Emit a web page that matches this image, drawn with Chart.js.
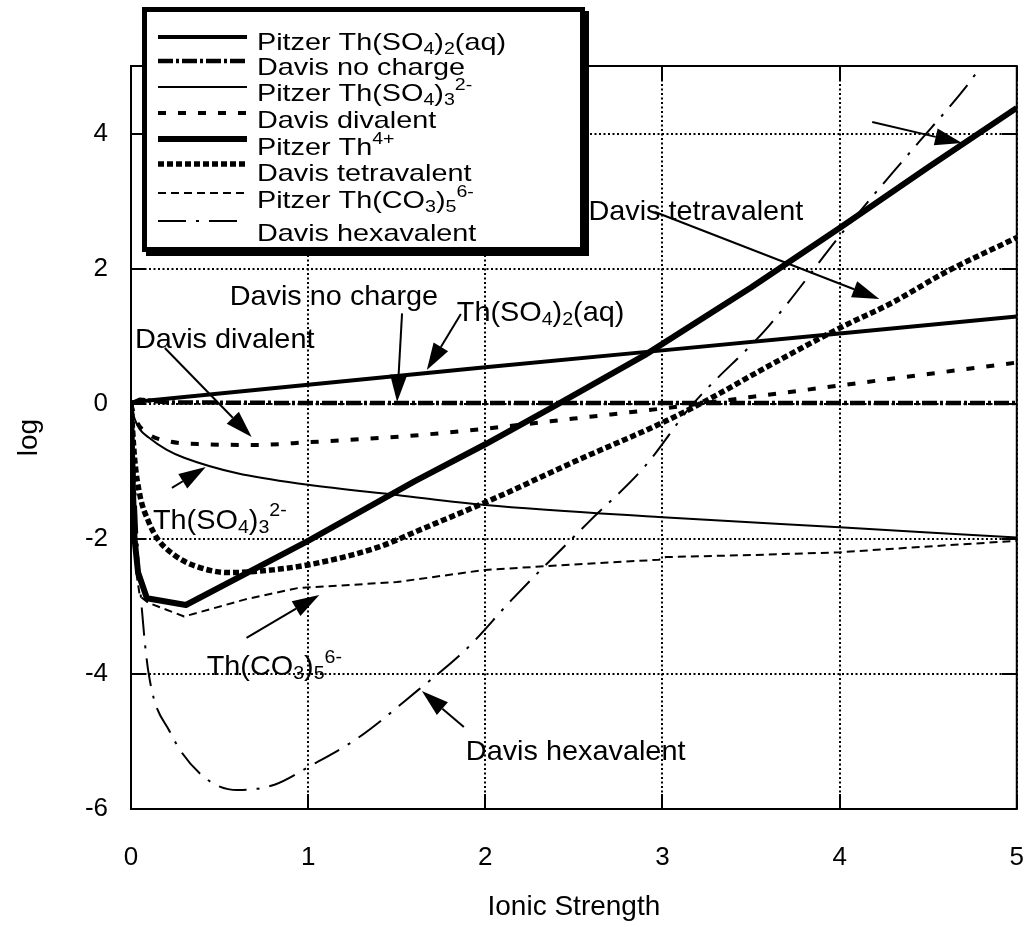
<!DOCTYPE html>
<html><head><meta charset="utf-8">
<script src="https://cdn.jsdelivr.net/npm/chart.js@4.4.0/dist/chart.umd.min.js"></script>
<style>html,body{margin:0;padding:0;background:#fff;}#wrap{width:1028px;height:927px;position:relative;}</style>
</head><body><div id="wrap"><canvas id="c" width="1028" height="927"></canvas></div>
<script>
const FONT = '"Liberation Sans", Arial, Helvetica, sans-serif';

// ---- data ----
const xTicks = [0, 1, 2, 3, 4, 5];
const yTicks = [-6, -4, -2, 0, 2, 4];
const xTitle = 'Ionic Strength';
const yTitle = 'log';

const seriesLabels = [
  'Pitzer Th(SO_{4})_{2}(aq)', 'Davis no charge', 'Pitzer Th(SO_{4})_{3}^{2-}', 'Davis divalent',
  'Pitzer Th^{4+}', 'Davis tetravalent', 'Pitzer Th(CO_{3})_{5}^{6-}', 'Davis hexavalent'
];

const xPitzerThSO4_2 = [0, 1, 2, 3, 4, 5];
const yPitzerThSO4_2 = [0.02, 0.28, 0.54, 0.79, 1.04, 1.29];

const xDavisNoCharge = [0, 0.05, 0.2, 1, 2, 3, 4, 5];
const yDavisNoCharge = [0, 0.06, 0.02, 0.01, 0.01, 0.01, 0.01, 0.01];

const xPitzerThSO4_3 = [0, 0.02, 0.05, 0.1, 0.2, 0.3, 0.6, 1, 1.5, 2, 3, 4, 5];
const yPitzerThSO4_3 = [0, -0.22, -0.38, -0.5, -0.68, -0.8, -1.03, -1.2, -1.35, -1.5, -1.68, -1.83, -1.98];

const xDavisDivalent = [0, 0.03, 0.1, 0.2, 0.4, 0.7, 1, 1.6, 2, 2.5, 3, 3.5, 4, 4.5, 5];
const yDavisDivalent = [0, -0.25, -0.45, -0.55, -0.6, -0.61, -0.57, -0.47, -0.37, -0.22, -0.07, 0.1, 0.27, 0.44, 0.61];

const xPitzerTh4 = [0, 0.01, 0.02, 0.04, 0.09, 0.31, 1, 1.6, 2, 2.4, 2.9, 3.5, 4, 4.5, 5];
const yPitzerTh4 = [0, -1.2, -2.0, -2.5, -2.88, -2.98, -2.03, -1.15, -0.6, -0.02, 0.72, 1.72, 2.6, 3.5, 4.38];

const xDavisTetravalent = [0, 0.02, 0.05, 0.1, 0.15, 0.25, 0.36, 0.55, 0.8, 1.05, 1.4, 1.62, 2.07, 2.5, 3, 3.25, 3.6, 4, 4.3, 4.6, 5];
const yDavisTetravalent = [0, -0.8, -1.35, -1.75, -2.0, -2.25, -2.4, -2.5, -2.46, -2.36, -2.12, -1.88, -1.38, -0.86, -0.28, 0.05, 0.56, 1.12, 1.5, 1.95, 2.46];

const xPitzerThCO3 = [0, 0.01, 0.03, 0.05, 0.1, 0.3, 0.64, 0.94, 1.5, 2, 2.5, 2.98, 3.02, 3.5, 4, 4.4, 5];
const yPitzerThCO3 = [0, -1.5, -2.5, -2.85, -2.95, -3.15, -2.9, -2.73, -2.64, -2.46, -2.38, -2.31, -2.27, -2.24, -2.2, -2.13, -2.03];

const xDavisHexavalent = [0, 0.02, 0.04, 0.06, 0.1, 0.22, 0.4, 0.6, 0.81, 1, 1.28, 1.62, 1.89, 2.15, 2.58, 2.9, 3.16, 3.6, 4.03, 4.41, 4.71, 4.8];
const yDavisHexavalent = [0, -1.0, -2.2, -3.0, -4.0, -4.86, -5.5, -5.72, -5.64, -5.38, -4.95, -4.24, -3.64, -2.9, -1.76, -0.93, -0.04, 1.15, 2.58, 3.76, 4.68, 5.0];

// annotations: text, text anchor (data units), arrow tail and tip (data units)
const annoTexts = ['Davis no charge', 'Th(SO_{4})_{2}(aq)', 'Davis divalent', 'Th(SO_{4})_{3}^{2-}', 'Th(CO_{3})_{5}^{6-}', 'Davis hexavalent', 'Davis tetravalent', ''];
const annoTextAt = [[0.557, 1.46], [1.839, 1.225], [0.022, 0.825], [0.124, -1.85], [0.427, -4.02], [1.89, -5.276], [2.582, 2.72], null];
const annoArrowFrom = [[1.530, 1.338], [1.862, 1.328], [0.191, 0.825], [0.231, -1.247], [0.652, -3.468], [1.879, -4.787], [2.958, 2.838], [4.184, 4.171]];
const annoArrowTo = [[1.502, 0.025], [1.670, 0.499], [0.681, -0.493], [0.422, -0.937], [1.063, -2.831], [1.642, -4.254], [4.224, 1.550], [4.691, 3.860]];

// ---- build datasets ----
const xs = [xPitzerThSO4_2, xDavisNoCharge, xPitzerThSO4_3, xDavisDivalent, xPitzerTh4, xDavisTetravalent, xPitzerThCO3, xDavisHexavalent];
const ys = [yPitzerThSO4_2, yDavisNoCharge, yPitzerThSO4_3, yDavisDivalent, yPitzerTh4, yDavisTetravalent, yPitzerThCO3, yDavisHexavalent];
const widths = [4, 4.5, 2, 4, 6, 5.5, 2, 2];
const dashes = [[], [15, 3, 3, 3], [], [8, 12], [], [6, 3], [8, 5], [28, 10, 3, 10]];
const smooth = [false, false, true, true, false, true, false, true];

const datasets = seriesLabels.map((lab, i) => ({
  label: lab,
  data: xs[i].map((x, j) => ({ x: x, y: ys[i][j] })),
  borderColor: '#000',
  backgroundColor: '#000',
  borderWidth: widths[i],
  borderDash: dashes[i],
  borderCapStyle: 'butt',
  borderJoinStyle: 'round',
  pointRadius: 0,
  fill: false,
  cubicInterpolationMode: smooth[i] ? 'monotone' : 'default',
  tension: 0
}));

// ---- rich text helper (sub/superscripts) ----
function parseRich(s) {
  const parts = []; const re = /([_^])\{([^}]*)\}/g; let last = 0, m;
  while ((m = re.exec(s))) {
    if (m.index > last) parts.push({ t: s.slice(last, m.index), k: '' });
    parts.push({ t: m[2], k: m[1] }); last = re.lastIndex;
  }
  if (last < s.length) parts.push({ t: s.slice(last), k: '' });
  return parts;
}
function drawRich(ctx, s, x, y, size, sx) {
  ctx.save(); ctx.translate(x, y); ctx.scale(sx, 1);
  ctx.fillStyle = '#000'; ctx.textAlign = 'left'; ctx.textBaseline = 'alphabetic';
  let cx = 0;
  for (const p of parseRich(s)) {
    const fs = p.k ? size * 0.68 : size;
    const dy = p.k === '_' ? size * 0.15 : (p.k === '^' ? -size * 0.45 : 0);
    ctx.font = fs + 'px ' + FONT;
    ctx.fillText(p.t, cx, dy);
    cx += ctx.measureText(p.t).width;
  }
  ctx.restore();
}
function arrow(ctx, x1, y1, x2, y2) {
  const a = Math.atan2(y2 - y1, x2 - x1), L = 27, W = 8.5;
  const bx = x2 - L * Math.cos(a), by = y2 - L * Math.sin(a);
  ctx.save(); ctx.strokeStyle = '#000'; ctx.fillStyle = '#000'; ctx.lineWidth = 2; ctx.setLineDash([]);
  ctx.beginPath(); ctx.moveTo(x1, y1); ctx.lineTo(bx, by); ctx.stroke();
  ctx.beginPath(); ctx.moveTo(x2, y2);
  ctx.lineTo(bx + W * Math.sin(a), by - W * Math.cos(a));
  ctx.lineTo(bx - W * Math.sin(a), by + W * Math.cos(a));
  ctx.closePath(); ctx.fill(); ctx.restore();
}

const gridPlugin = {
  id: 'dotgrid',
  beforeDatasetsDraw(chart) {
    const { ctx, chartArea: a, scales: { x, y } } = chart;
    ctx.save(); ctx.strokeStyle = '#000'; ctx.lineWidth = 2; ctx.setLineDash([2, 2.5]);
    xTicks.forEach(v => { const px = Math.round(x.getPixelForValue(v)); ctx.beginPath(); ctx.moveTo(px, a.top); ctx.lineTo(px, a.bottom); ctx.stroke(); });
    yTicks.forEach(v => { const py = Math.round(y.getPixelForValue(v)); ctx.beginPath(); ctx.moveTo(a.left, py); ctx.lineTo(a.right, py); ctx.stroke(); });
    ctx.restore();
  },
  afterDatasetsDraw(chart) {
    const { ctx, chartArea: a, scales: { x, y } } = chart;
    ctx.save(); ctx.strokeStyle = '#000'; ctx.setLineDash([]); ctx.lineWidth = 2;
    ctx.strokeRect(a.left, a.top, a.right - a.left, a.bottom - a.top);
    const T = 15;
    xTicks.forEach(v => { const px = Math.round(x.getPixelForValue(v));
      ctx.beginPath(); ctx.moveTo(px, a.bottom); ctx.lineTo(px, a.bottom - T); ctx.moveTo(px, a.top); ctx.lineTo(px, a.top + T); ctx.stroke(); });
    yTicks.forEach(v => { const py = Math.round(y.getPixelForValue(v));
      ctx.beginPath(); ctx.moveTo(a.left, py); ctx.lineTo(a.left + T, py); ctx.moveTo(a.right, py); ctx.lineTo(a.right - T, py); ctx.stroke(); });
    ctx.restore();
    // annotations
    annoTexts.forEach((t, i) => {
      if (t && annoTextAt[i]) drawRich(ctx, t, x.getPixelForValue(annoTextAt[i][0]), y.getPixelForValue(annoTextAt[i][1]), 28, 1.03);
      arrow(ctx, x.getPixelForValue(annoArrowFrom[i][0]), y.getPixelForValue(annoArrowFrom[i][1]),
        x.getPixelForValue(annoArrowTo[i][0]), y.getPixelForValue(annoArrowTo[i][1]));
    });
  },
  afterDraw(chart) {
    const ctx = chart.ctx;
    // legend box with shadow
    const bx = 142, by = 7, bw = 443, bh = 245;
    ctx.save();
    ctx.fillStyle = '#000'; ctx.fillRect(bx + 4, by + 4, bw, bh);
    ctx.fillStyle = '#fff'; ctx.fillRect(bx, by, bw, bh);
    ctx.strokeStyle = '#000'; ctx.lineWidth = 5; ctx.setLineDash([]);
    ctx.strokeRect(bx + 2.5, by + 2.5, bw - 5, bh - 5);
    const base = [50, 75, 101, 128, 155, 181, 208, 241];
    const lineY = [37, 61, 87, 113, 139, 164, 193, 221];
    chart.data.datasets.forEach((ds, i) => {
      ctx.save(); ctx.strokeStyle = '#000'; ctx.lineWidth = ds.borderWidth; ctx.setLineDash(ds.borderDash || []); ctx.lineCap = 'butt';
      ctx.beginPath(); ctx.moveTo(158, lineY[i]); ctx.lineTo(247, lineY[i]); ctx.stroke(); ctx.restore();
      drawRich(ctx, ds.label, 257, base[i], 24, 1.2);
    });
    ctx.restore();
  }
};

Chart.defaults.font.family = FONT;
Chart.defaults.color = '#000';

new Chart(document.getElementById('c').getContext('2d'), {
  type: 'line',
  data: { datasets },
  options: {
    responsive: false, animation: false, devicePixelRatio: 1,
    layout: { padding: { top: 66, right: 8, left: 0, bottom: 0 } },
    plugins: { legend: { display: false }, tooltip: { enabled: false } },
    scales: {
      x: {
        type: 'linear', min: 0, max: 5,
        afterBuildTicks: s => { s.ticks = xTicks.map(v => ({ value: v })); },
        afterFit: s => { s.height = 118; },
        grid: { display: false, drawTicks: false }, border: { display: false },
        ticks: { font: { size: 26, lineHeight: 90 / 26 }, color: '#000', padding: 4, maxRotation: 0 },
        title: { display: true, text: xTitle, font: { size: 28 }, color: '#000', padding: { top: 0, bottom: 3 } }
      },
      y: {
        type: 'linear', min: -6, max: 5,
        afterBuildTicks: s => { s.ticks = yTicks.map(v => ({ value: v })); },
        afterFit: s => { s.width = 131; },
        grid: { display: false, drawTicks: false }, border: { display: false },
        ticks: { font: { size: 26 }, color: '#000', padding: 23 },
        title: { display: true, text: yTitle, font: { size: 28 }, color: '#000', padding: { top: 12, bottom: 0 } }
      }
    }
  },
  plugins: [gridPlugin]
});
</script>
</body></html>
